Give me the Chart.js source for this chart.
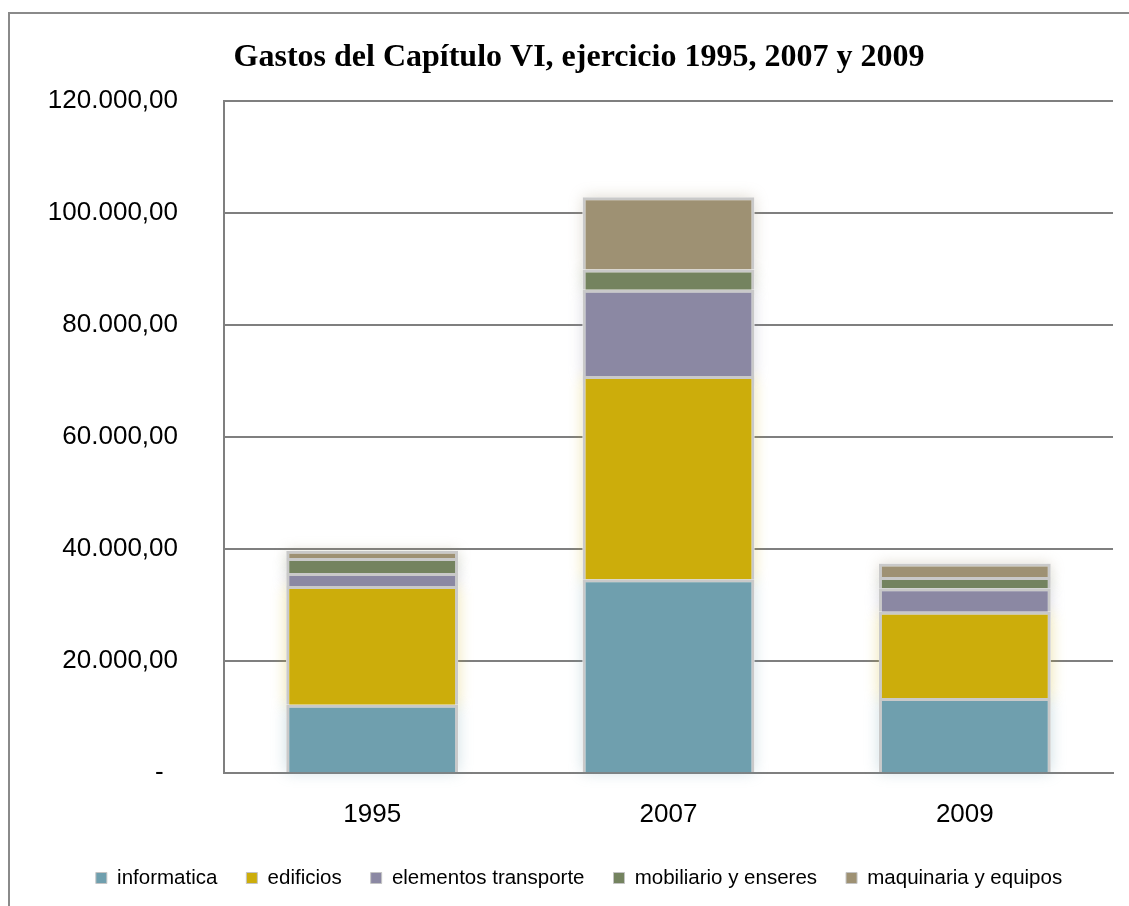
<!DOCTYPE html>
<html>
<head>
<meta charset="utf-8">
<script src="https://cdn.jsdelivr.net/npm/chart.js@4/dist/chart.umd.min.js"></script>
<style>
  html, body { margin: 0; padding: 0; background: #fff; overflow: hidden; }
  body { width: 1129px; height: 906px; position: relative; }
  .frame {
    position: absolute; left: 8px; top: 12px; width: 1200px; height: 1000px;
    border-left: 2px solid #8a8a8a; border-top: 2px solid #8a8a8a;
  }
  .wrap { position: absolute; left: 10px; top: 14px; width: 1119px; height: 892px; }
</style>
</head>
<body>
<div class="frame"></div>
<div class="wrap"><canvas id="grafico"></canvas></div>
<script>
// datos del grafico (euros)
const anios = ["1995", "2007", "2009"];
const informatica = [12200, 34600, 13400];
const edificios = [21200, 36300, 15400];
const transporte = [2300, 15400, 4200];
const mobiliario = [2700, 3600, 2000];
const maquinaria = [1300, 12900, 2400];
const series = ["informatica", "edificios", "elementos transporte", "mobiliario y enseres", "maquinaria y equipos"];
const colores = ["#6f9fae", "#ccad0b", "#8b88a3", "#74835f", "#9e9173"];
const titulo = "Gastos del Capítulo VI, ejercicio 1995, 2007 y 2009";

// formato 120.000,00
const formato = (v) => {
  if (v === 0) return "-  ";
  const entero = Math.round(v).toString().replace(/\B(?=(\d{3})+(?!\d))/g, ".");
  return entero + ",00";
};

// brillo suave alrededor de las barras
const brillo = {
  id: "brillo",
  beforeDatasetsDraw(chart) {
    const ctx = chart.ctx;
    chart.data.datasets.forEach((ds, i) => {
      const meta = chart.getDatasetMeta(i);
      meta.data.forEach((bar) => {
        const p = bar.getProps(["x", "y", "base", "width"], true);
        ctx.save();
        ctx.shadowColor = ds.backgroundColor + "55";
        ctx.shadowBlur = 14;
        ctx.fillStyle = "#ffffff";
        ctx.fillRect(p.x - p.width / 2, Math.min(p.y, p.base), p.width, Math.abs(p.base - p.y));
        ctx.restore();
      });
    });
  }
};

const valores = [informatica, edificios, transporte, mobiliario, maquinaria];

new Chart(document.getElementById("grafico"), {
  type: "bar",
  data: {
    labels: anios,
    datasets: series.map((nombre, i) => ({
      label: nombre,
      data: valores[i],
      backgroundColor: colores[i],
      borderColor: "#c9c9c9",
      borderWidth: 3,
      barPercentage: 0.58,
      categoryPercentage: 1
    }))
  },
  options: {
    responsive: true,
    maintainAspectRatio: false,
    animation: false,
    devicePixelRatio: 1,
    layout: { padding: { left: 35, right: 16, top: 0, bottom: 7.75 } },
    plugins: {
      tooltip: { enabled: false },
      title: {
        display: true,
        text: titulo,
        color: "#000",
        font: { family: "'Liberation Serif', 'Times New Roman', serif", size: 32, weight: "bold" },
        padding: { top: 25, bottom: 23.6 }
      },
      legend: {
        position: "bottom",
        labels: {
          color: "#000",
          font: { family: "'Liberation Sans', Arial, sans-serif", size: 20.5 },
          boxWidth: 11,
          boxHeight: 11,
          padding: 29,
          generateLabels: (chart) => chart.data.datasets.map((ds, i) => ({
            text: ds.label,
            fillStyle: ds.backgroundColor,
            strokeStyle: "#c4c4c4",
            lineWidth: 1,
            datasetIndex: i,
            hidden: false
          }))
        }
      }
    },
    scales: {
      x: {
        stacked: true,
        grid: { display: false, drawTicks: false },
        border: { display: true, color: "#7f7f7f", width: 2 },
        ticks: { color: "#000", padding: 26, font: { family: "'Liberation Sans', Arial, sans-serif", size: 26 } },
        afterFit: (s) => { s.height = 65.75; }
      },
      y: {
        stacked: true,
        min: 0,
        max: 120000,
        grid: { color: "#7f7f7f", lineWidth: 2, drawTicks: false },
        border: { display: true, color: "#7f7f7f", width: 2 },
        ticks: {
          stepSize: 20000,
          color: "#000",
          padding: 46,
          font: { family: "'Liberation Sans', Arial, sans-serif", size: 26 },
          callback: (v) => formato(v)
        },
        afterFit: (s) => { s.width = 179; }
      }
    }
  },
  plugins: [brillo]
});
</script>
</body>
</html>
